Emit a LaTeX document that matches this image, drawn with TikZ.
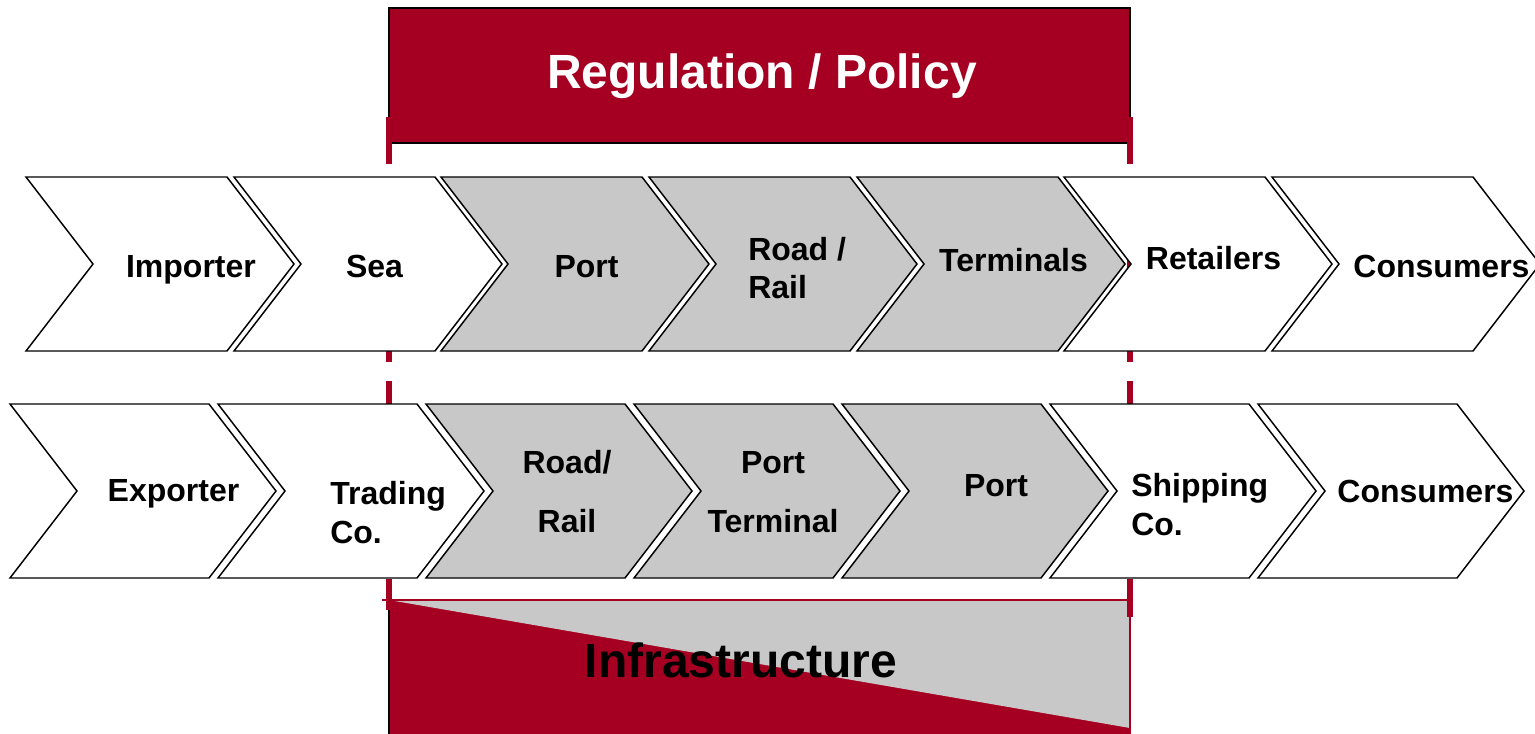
\documentclass[tikz,border=0pt]{standalone}
\usepackage{fontspec}
\setmainfont{Liberation Sans}
\usepackage{tikz}

\definecolor{policyred}{HTML}{A50021}
\definecolor{stagegray}{HTML}{C8C8C8}

\tikzset{
	stage/.style={draw=black,line width=1.1pt,line join=miter},
	plainstage/.style={stage,fill=white},
	corestage/.style={stage,fill=stagegray},
	lbl/.style={font=\bfseries\fontsize{24}{29}\selectfont,inner sep=0pt,anchor=base},
	lblw/.style={lbl,anchor=base west},
	title/.style={font=\bfseries\fontsize{36}{43}\selectfont,inner sep=0pt,anchor=base},
	guide/.style={policyred,line width=4.5pt,dash pattern=on 35.25pt off 14.25pt}
}

% #1 = left x, #2 = top y, #3 = body width, #4 = style
\newcommand{\stagebox}[4]{%
	\draw[#4] (#1,#2) -- ++(#3,0) -- ++(67,87) -- ++(-67,87) -- ++(-#3,0) -- ++(67,-87) -- cycle;%
}

\begin{document}
\begin{tikzpicture}[x=0.75pt,y=-0.75pt]
		\useasboundingbox (0,0) rectangle (1535,733);

		\draw[fill=policyred,draw=black,line width=1.2pt] (389,8) rectangle (1130,143);

		\fill[policyred] (389,600) rectangle (1130,745);
		\fill[stagegray] (389,600) -- (1130,600) -- (1130,728) -- cycle;
		\draw[policyred,line width=1.2pt] (382,600) -- (1130,600) -- (1130,745);
		\draw[black,line width=1.2pt] (389,606) -- (389,745);

		\draw[guide] (389,117) -- (389,610);
		\draw[guide] (1130,117) -- (1130,617);

		\stagebox{26}{177}{201}{plainstage}
		\stagebox{234}{177}{201}{plainstage}
		\stagebox{441}{177}{201}{corestage}
		\stagebox{649}{177}{201}{corestage}
		\stagebox{857}{177}{201}{corestage}
		\stagebox{1064}{177}{201}{plainstage}
		\stagebox{1272}{177}{201}{plainstage}

		\stagebox{10}{404}{199}{plainstage}
		\stagebox{218}{404}{199}{plainstage}
		\stagebox{426}{404}{199}{corestage}
		\stagebox{634}{404}{199}{corestage}
		\stagebox{842}{404}{199}{corestage}
		\stagebox{1050}{404}{199}{plainstage}
		\stagebox{1258}{404}{199}{plainstage}

		\draw
			node[title,text=white] (reg)   at (762,88)    {Regulation / Policy}
			node[title]            (infra) at (741,677)   {Infrastructure}

			node[lbl]  (imp)   at (191,277)    {Importer}
			node[lbl]  (sea)   at (374.5,277)  {Sea}
			node[lbl]  (port)  at (586.5,277)  {Port}
			node[lblw] (road)  at (748,260)    {Road /}
			node[lblw] (rail)  at (748,298)    {Rail}
			node[lbl]  (term)  at (1013.5,271) {Terminals}
			node[lbl]  (ret)   at (1213.5,269) {Retailers}
			node[lbl]  (cons)  at (1441.5,277) {Consumers}

			node[lbl]  (exp)   at (173.5,501)  {Exporter}
			node[lblw] (trad)  at (330,504)    {Trading}
			node[lblw] (tradb) at (330,543)    {Co.}
			node[lbl]  (roadb) at (567,473)    {Road/}
			node[lbl]  (railb) at (567,532)    {Rail}
			node[lbl]  (pterm) at (773,473)    {Port}
			node[lbl]  (ptermb) at (773,532)   {Terminal}
			node[lbl]  (portb) at (996,496)    {Port}
			node[lblw] (ship)  at (1131,496)   {Shipping}
			node[lblw] (shipb) at (1131,535)   {Co.}
			node[lbl]  (consb) at (1425.5,502) {Consumers}
		;
	\end{tikzpicture}
\end{document}
